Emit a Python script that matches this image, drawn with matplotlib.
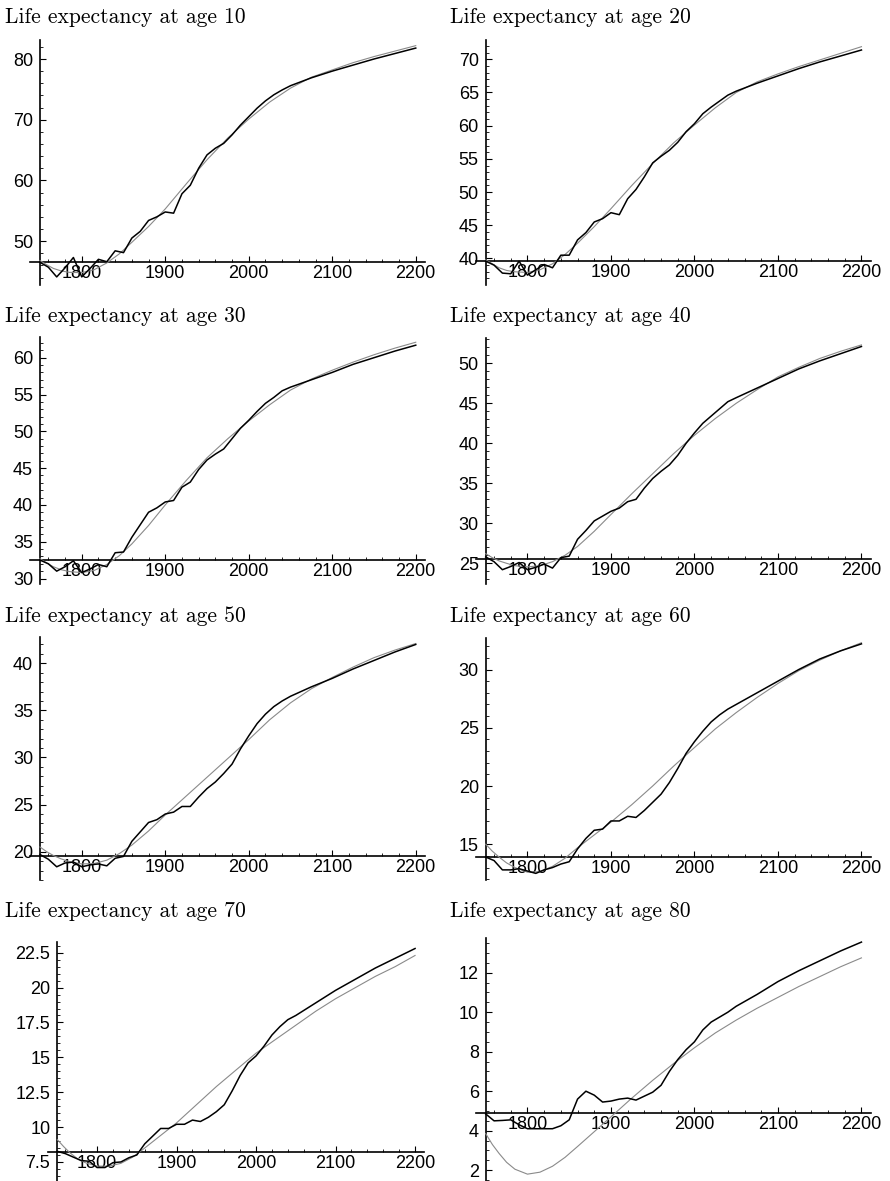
import matplotlib
matplotlib.use("Agg")
import matplotlib.pyplot as plt
from matplotlib.ticker import FixedLocator, MultipleLocator

# ---- data -------------------------------------------------------------
ages = [10, 20, 30, 40, 50, 60, 70, 80]

obs_years = [1750, 1760, 1770, 1780, 1790, 1800, 1810, 1820, 1830, 1840,
             1850, 1860, 1870, 1880, 1890, 1900, 1910, 1920, 1930, 1940,
             1950, 1960, 1970, 1980, 1990, 2000, 2010, 2020, 2030, 2040,
             2050, 2075, 2100, 2125, 2150, 2175, 2200]

fit_years = [1750, 1758, 1766, 1775, 1785, 1800, 1815, 1830, 1845, 1860,
             1880, 1900, 1925, 1950, 1975, 2000, 2025, 2050, 2075, 2100,
             2125, 2150, 2175, 2200]

obs_10 = [46.5, 45.7, 44.1, 45.6, 47.3, 44.1, 45.5, 47.0, 46.6, 48.4,
          48.1, 50.5, 51.6, 53.4, 54.0, 54.8, 54.6, 57.8, 59.2, 62.0,
          64.2, 65.3, 66.1, 67.5, 69.1, 70.5, 71.9, 73.1, 74.1, 74.9,
          75.6, 76.9, 78.0, 79.0, 80.0, 80.9, 81.8]
fit_10 = [46.8, 46.1, 45.5, 45.1, 44.85, 44.8, 45.3, 46.4, 47.9, 49.8,
          52.4, 55.3, 59.4, 63.4, 67.0, 70.1, 72.9, 75.2, 77.0, 78.2,
          79.4, 80.4, 81.3, 82.2]

obs_20 = [39.6, 39.0, 37.8, 37.7, 39.6, 37.5, 38.3, 39.1, 38.6, 40.5,
          40.5, 42.8, 43.9, 45.5, 46.0, 46.9, 46.6, 49.0, 50.4, 52.3,
          54.4, 55.4, 56.3, 57.5, 59.1, 60.3, 61.8, 62.8, 63.7, 64.6,
          65.2, 66.4, 67.5, 68.6, 69.6, 70.5, 71.4]
fit_20 = [39.8, 39.2, 38.6, 38.2, 38.0, 37.9, 38.3, 39.2, 40.6, 42.3,
          44.8, 47.5, 51.0, 54.3, 57.4, 60.1, 62.7, 65.0, 66.6, 67.8,
          68.9, 69.9, 70.9, 71.9]

obs_30 = [32.5, 32.0, 31.0, 31.6, 32.4, 30.8, 31.3, 31.9, 31.6, 33.5,
          33.6, 35.6, 37.3, 39.0, 39.6, 40.4, 40.6, 42.4, 43.1, 44.8,
          46.1, 46.9, 47.6, 49.0, 50.4, 51.5, 52.7, 53.8, 54.6, 55.5,
          56.0, 57.0, 58.0, 59.1, 60.0, 60.9, 61.7]
fit_30 = [32.7, 32.1, 31.6, 31.2, 30.95, 30.8, 31.1, 31.9, 33.1, 34.7,
          37.2, 40.0, 43.3, 46.4, 49.0, 51.4, 53.6, 55.6, 57.1, 58.3,
          59.4, 60.4, 61.3, 62.1]

obs_40 = [25.8, 25.2, 24.2, 24.6, 25.1, 24.2, 24.5, 24.9, 24.4, 25.7,
          25.9, 28.0, 29.1, 30.3, 30.9, 31.5, 31.9, 32.7, 33.0, 34.4,
          35.6, 36.5, 37.3, 38.5, 40.0, 41.3, 42.5, 43.4, 44.3, 45.2,
          45.7, 46.9, 48.1, 49.3, 50.3, 51.2, 52.1]
fit_40 = [26.2, 25.7, 25.3, 25.0, 24.7, 24.55, 24.7, 25.2, 26.0, 27.1,
          29.0, 31.1, 33.7, 36.2, 38.7, 41.0, 43.1, 45.0, 46.7, 48.3,
          49.5, 50.6, 51.5, 52.3]

obs_50 = [19.7, 19.2, 18.4, 18.8, 18.9, 18.4, 18.6, 18.7, 18.5, 19.3,
          19.5, 21.1, 22.1, 23.1, 23.4, 24.0, 24.2, 24.8, 24.8, 25.8,
          26.7, 27.4, 28.3, 29.3, 30.9, 32.3, 33.6, 34.6, 35.4, 36.0,
          36.5, 37.5, 38.4, 39.4, 40.3, 41.2, 42.0]
fit_50 = [20.5, 20.0, 19.6, 19.25, 18.95, 18.7, 18.75, 19.1, 19.8, 20.7,
          22.2, 23.9, 25.9, 27.9, 29.9, 31.9, 34.0, 35.8, 37.3, 38.5,
          39.6, 40.6, 41.4, 42.1]

obs_60 = [13.9, 13.6, 12.8, 12.8, 12.9, 12.7, 12.5, 12.8, 13.0, 13.3,
          13.5, 14.6, 15.5, 16.2, 16.3, 17.0, 17.0, 17.4, 17.3, 17.9,
          18.6, 19.3, 20.3, 21.5, 22.8, 23.8, 24.7, 25.5, 26.1, 26.6,
          27.0, 28.0, 29.0, 30.0, 30.9, 31.6, 32.2]
fit_60 = [15.0, 14.4, 13.9, 13.4, 13.0, 12.6, 12.65, 13.1, 13.8, 14.7,
          15.8, 16.9, 18.4, 20.0, 21.7, 23.3, 24.9, 26.3, 27.6, 28.8,
          29.9, 30.8, 31.6, 32.3]

obs_70 = [8.26, 8.1, 7.85, 7.6, 7.55, 7.1, 7.1, 7.45, 7.5, 7.8,
          8.0, 8.8, 9.35, 9.9, 9.9, 10.2, 10.2, 10.5, 10.4, 10.7,
          11.1, 11.6, 12.6, 13.7, 14.6, 15.1, 15.8, 16.6, 17.2, 17.7,
          18.0, 18.9, 19.8, 20.6, 21.4, 22.1, 22.8]
fit_70 = [9.1, 8.6, 8.15, 7.75, 7.45, 7.2, 7.2, 7.4, 7.85, 8.5,
          9.4, 10.3, 11.6, 12.9, 14.1, 15.3, 16.3, 17.3, 18.3, 19.2,
          20.0, 20.8, 21.5, 22.3]

obs_80 = [4.85, 4.5, 4.52, 4.55, 4.3, 4.1, 4.1, 4.1, 4.1, 4.25,
          4.55, 5.6, 6.0, 5.8, 5.45, 5.5, 5.6, 5.65, 5.55, 5.75,
          5.95, 6.3, 7.0, 7.6, 8.1, 8.5, 9.1, 9.5, 9.75, 10.0,
          10.3, 10.9, 11.55, 12.1, 12.6, 13.1, 13.55]
fit_80 = [3.85, 3.3, 2.85, 2.4, 2.05, 1.8, 1.9, 2.2, 2.65, 3.2,
          3.95, 4.7, 5.65, 6.55, 7.4, 8.2, 8.95, 9.6, 10.2, 10.75,
          11.3, 11.8, 12.3, 12.75]

observed = [obs_10, obs_20, obs_30, obs_40, obs_50, obs_60, obs_70, obs_80]
fitted = [fit_10, fit_20, fit_30, fit_40, fit_50, fit_60, fit_70, fit_80]

# where the horizontal axis crosses, and the labelled y ticks
origins = [46.6, 39.6, 32.5, 25.5, 19.55, 13.9, 8.2, 4.88]
y_ticks = [
    [50, 60, 70, 80],
    [40, 45, 50, 55, 60, 65, 70],
    [30, 35, 40, 45, 50, 55, 60],
    [25, 30, 35, 40, 45, 50],
    [20, 25, 30, 35, 40],
    [15, 20, 25, 30],
    [7.5, 10, 12.5, 15, 17.5, 20, 22.5],
    [2, 4, 6, 8, 10, 12],
]
y_minor = [2, 1, 1, 1, 1, 1, 0.5, 0.5]
x_ticks = [1800, 1900, 2000, 2100, 2200]

# ---- layout (pixels) --------------------------------------------------
W, H = 890, 1181
# x pixel of 1750, px per year, ref value, its y pixel, px per unit, top px, bottom px
layout = [
    (40.0, 0.835, 80, 59.0, 6.07, 40, 285),
    (485.7, 0.835, 70, 59.3, 6.64, 40, 285),
    (40.0, 0.835, 60, 357.7, 7.36, 337, 584),
    (485.7, 0.835, 50, 363.3, 8.0, 338, 584),
    (40.0, 0.835, 40, 663.3, 9.42, 637, 880),
    (485.7, 0.835, 30, 669.5, 11.65, 638, 880),
    (57.3, 0.795, 22.5, 952.7, 13.95, 942, 1181),
    (485.7, 0.835, 12, 972.7, 19.75, 938, 1181),
]
title_pos = [(5, 22.7), (450, 22.7), (5, 321.7), (450, 321.7),
             (5, 621.7), (450, 621.7), (5, 916.7), (450, 916.7)]

XL, XR = 1738, 2211

fig = plt.figure(figsize=(W / 100, H / 100), dpi=100)
fig.patch.set_facecolor("white")


def fmt(v):
    return f"{v:g}"


for i, age in enumerate(ages):
    x0, ppy, vref, yref, ppu, ytop, ybot = layout[i]
    left = x0 + (XL - 1750) * ppy
    right = x0 + (XR - 1750) * ppy
    vtop = vref + (yref - ytop) / ppu
    vbot = vref - (ybot - yref) / ppu
    ax = fig.add_axes([left / W, 1 - ybot / H, (right - left) / W, (ybot - ytop) / H])
    ax.set_xlim(XL, XR)
    ax.set_ylim(vbot, vtop)
    ax.patch.set_alpha(0)

    ax.plot(fit_years, fitted[i], color="#8a8a8a", lw=0.8, clip_on=False)
    ax.plot(obs_years, observed[i], color="black", lw=1.1, clip_on=False)

    for side in ("top", "right"):
        ax.spines[side].set_visible(False)
    ax.spines["left"].set_position(("data", 1750))
    ax.spines["bottom"].set_position(("data", origins[i]))
    for side in ("left", "bottom"):
        ax.spines[side].set_linewidth(1.2)
        ax.spines[side].set_zorder(0.5)

    ax.xaxis.set_major_locator(FixedLocator(x_ticks))
    ax.xaxis.set_minor_locator(FixedLocator(range(1760, 2201, 20)))
    ax.set_xticklabels([str(t) for t in x_ticks])
    ax.yaxis.set_major_locator(FixedLocator(y_ticks[i]))
    ax.set_yticklabels([fmt(t) for t in y_ticks[i]])
    ax.yaxis.set_minor_locator(MultipleLocator(y_minor[i]))

    ax.tick_params(which="major", direction="in", length=4.5, width=0.8,
                   labelsize=13, colors="black")
    ax.tick_params(which="minor", direction="in", length=2.5, width=0.6)
    ax.tick_params(axis="x", which="major", pad=2)
    ax.tick_params(axis="y", which="major", pad=5)
    for lab in ax.get_xticklabels() + ax.get_yticklabels():
        lab.set_fontfamily("Liberation Sans")

    tx, ty = title_pos[i]
    fig.text(tx / W, 1 - ty / H, f"Life expectancy at age {age}",
             fontfamily="cmr10", fontsize=15.5, va="baseline", ha="left")

fig.savefig("out.png", dpi=100)
